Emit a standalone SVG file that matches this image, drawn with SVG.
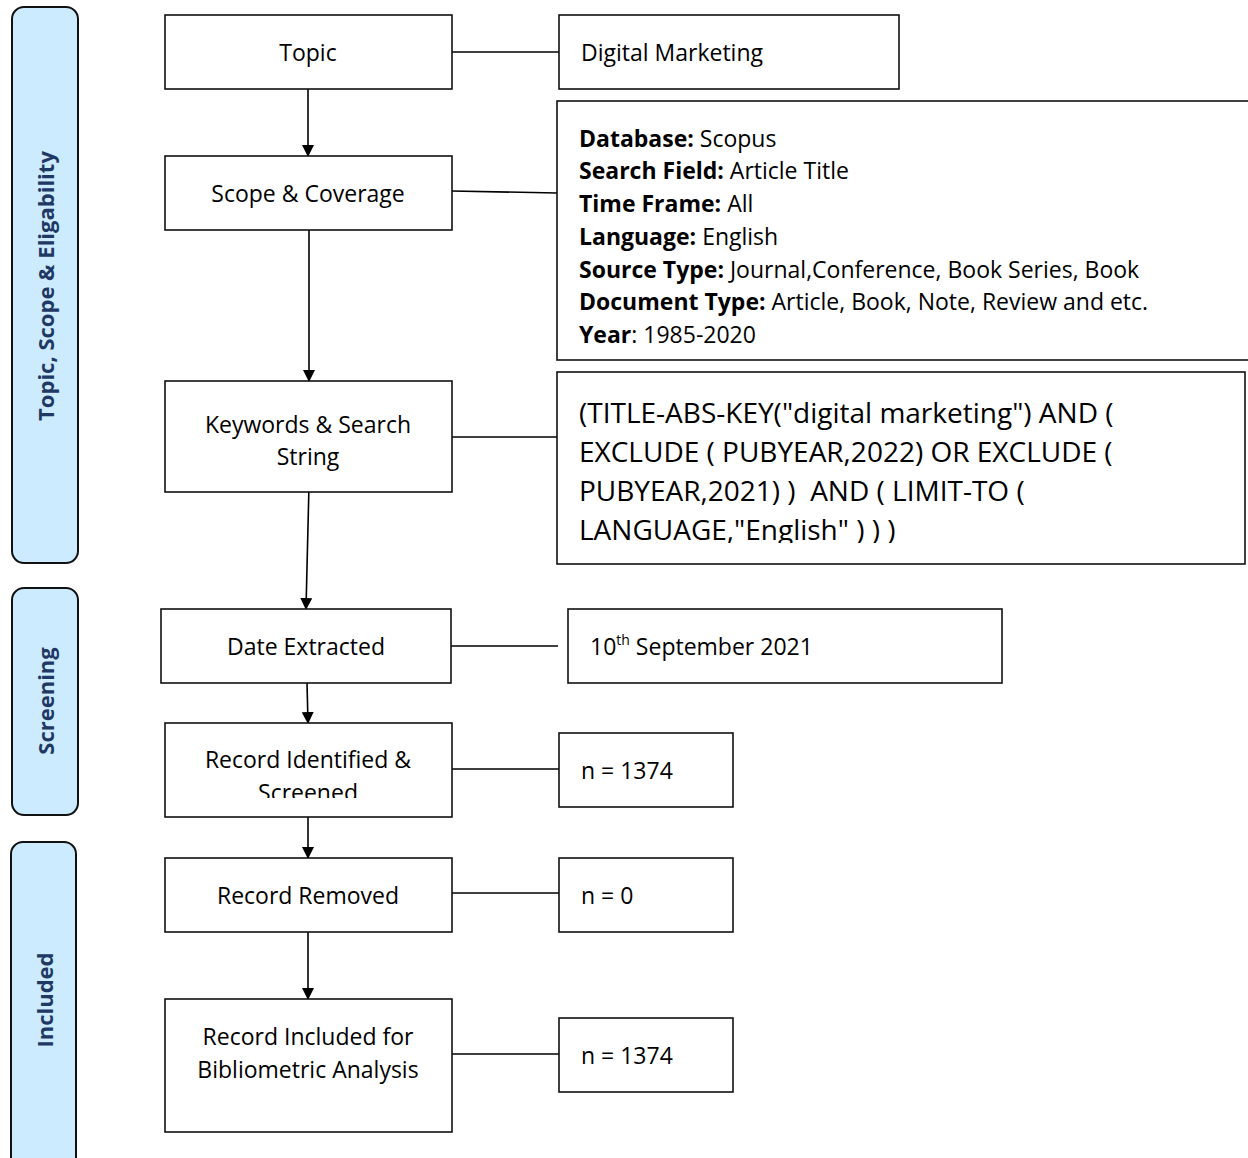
<svg xmlns="http://www.w3.org/2000/svg" width="1248" height="1158" viewBox="0 0 1248 1158">
<style>
.band{fill:#CCEBFF;stroke:#111;stroke-width:2}
.bt{font-family:"Open Sans",Lato,sans-serif;font-weight:bold;font-size:22px;fill:#1F3864;text-anchor:middle}
.box{fill:#fff;stroke:#111;stroke-width:1.6}
.t{font-family:"Open Sans",Lato,sans-serif;font-size:23px;fill:#000}
.c{text-anchor:middle}
.b{font-weight:bold}
.big{font-size:28px}
.ln{stroke:#000;stroke-width:1.6;fill:none}
</style>
<defs>
<marker id="ah" markerWidth="12" markerHeight="12" refX="11" refY="6" orient="auto" markerUnits="userSpaceOnUse">
<path d="M0,0 L12,6 L0,12 Z" fill="#000"/>
</marker>
<clipPath id="clipRI"><rect x="165" y="723" width="287" height="75"/></clipPath>
<clipPath id="clipSS"><rect x="557" y="372" width="688" height="171"/></clipPath>
</defs>
<rect width="1248" height="1158" fill="#fff"/>

<g id="band-topic">
<rect class="band" x="12" y="7" width="66" height="556" rx="12"/>
<text class="bt" transform="translate(54,286) rotate(-90)">Topic, Scope &amp; Eligability</text>
</g>
<g id="band-screening">
<rect class="band" x="12" y="588" width="66" height="227" rx="12"/>
<text class="bt" transform="translate(54,701) rotate(-90)">Screening</text>
</g>
<g id="band-included">
<rect class="band" x="11" y="842" width="65" height="330" rx="12"/>
<text class="bt" transform="translate(53,1000) rotate(-90)">Included</text>
</g>

<g id="connectors">
<line class="ln" x1="452" y1="52" x2="559" y2="52"/>
<line class="ln" x1="452" y1="191" x2="557" y2="193"/>
<line class="ln" x1="452" y1="437" x2="559" y2="437"/>
<line class="ln" x1="451" y1="646" x2="558" y2="646"/>
<line class="ln" x1="452" y1="769" x2="559" y2="769"/>
<line class="ln" x1="452" y1="893" x2="559" y2="893"/>
<line class="ln" x1="452" y1="1054" x2="559" y2="1054"/>
<line class="ln" x1="308" y1="89" x2="308" y2="156" marker-end="url(#ah)"/>
<line class="ln" x1="309" y1="230" x2="309" y2="381" marker-end="url(#ah)"/>
<line class="ln" x1="309" y1="485" x2="306" y2="609" marker-end="url(#ah)"/>
<line class="ln" x1="307" y1="683" x2="308" y2="723" marker-end="url(#ah)"/>
<line class="ln" x1="308" y1="817" x2="308" y2="858" marker-end="url(#ah)"/>
<line class="ln" x1="308" y1="932" x2="308" y2="999" marker-end="url(#ah)"/>
</g>

<g id="topic">
<rect class="box" x="165" y="15" width="287" height="74"/>
<text class="t c" x="308" y="61">Topic</text>
</g>
<g id="scope">
<rect class="box" x="165" y="156" width="287" height="74"/>
<text class="t c" x="308" y="202">Scope &amp; Coverage</text>
</g>
<g id="keywords">
<rect class="box" x="165" y="381" width="287" height="111"/>
<text class="t c" x="308" y="433">Keywords &amp; Search</text>
<text class="t c" x="308" y="465">String</text>
</g>
<g id="date">
<rect class="box" x="161" y="609" width="290" height="74"/>
<text class="t c" x="306" y="655">Date Extracted</text>
</g>
<g id="identified">
<rect class="box" x="165" y="723" width="287" height="94"/>
<g clip-path="url(#clipRI)">
<text class="t c" x="308" y="768">Record Identified &amp;</text>
<text class="t c" x="308" y="801">Screened</text>
</g>
</g>
<g id="removed">
<rect class="box" x="165" y="858" width="287" height="74"/>
<text class="t c" x="308" y="904">Record Removed</text>
</g>
<g id="included">
<rect class="box" x="165" y="999" width="287" height="133"/>
<text class="t c" x="308" y="1045">Record Included for</text>
<text class="t c" x="308" y="1078">Bibliometric Analysis</text>
</g>

<g id="digital-marketing">
<rect class="box" x="559" y="15" width="340" height="74"/>
<text class="t" x="581" y="61">Digital Marketing</text>
</g>
<g id="scope-details">
<rect class="box" x="557" y="101" width="700" height="259"/>
<text class="t" x="579" y="147"><tspan class="b">Database:</tspan> Scopus</text>
<text class="t" x="579" y="179"><tspan class="b">Search Field:</tspan> Article Title</text>
<text class="t" x="579" y="212"><tspan class="b">Time Frame:</tspan> All</text>
<text class="t" x="579" y="245"><tspan class="b">Language:</tspan> English</text>
<text class="t" x="579" y="278"><tspan class="b">Source Type:</tspan> Journal,Conference, Book Series, Book</text>
<text class="t" x="579" y="310"><tspan class="b">Document Type:</tspan> Article, Book, Note, Review and etc.</text>
<text class="t" x="579" y="343"><tspan class="b">Year</tspan>: 1985-2020</text>
</g>
<g id="search-string">
<rect class="box" x="557" y="372" width="688" height="192"/>
<g clip-path="url(#clipSS)">
<text class="t big" x="579" y="423">(TITLE-ABS-KEY("digital marketing") AND (</text>
<text class="t big" x="579" y="462">EXCLUDE ( PUBYEAR,2022) OR EXCLUDE (</text>
<text class="t big" x="579" y="501" xml:space="preserve">PUBYEAR,2021) )  AND ( LIMIT-TO (</text>
<text class="t big" x="579" y="540">LANGUAGE,"English" ) ) )</text>
</g>
</g>
<g id="date-value">
<rect class="box" x="568" y="609" width="434" height="74"/>
<text class="t" x="590" y="655">10<tspan font-size="14" dy="-10">th</tspan><tspan dy="10"> September 2021</tspan></text>
</g>
<g id="n-identified">
<rect class="box" x="559" y="733" width="174" height="74"/>
<text class="t" x="581" y="779">n = 1374</text>
</g>
<g id="n-removed">
<rect class="box" x="559" y="858" width="174" height="74"/>
<text class="t" x="581" y="904">n = 0</text>
</g>
<g id="n-included">
<rect class="box" x="559" y="1018" width="174" height="74"/>
<text class="t" x="581" y="1064">n = 1374</text>
</g>
</svg>
